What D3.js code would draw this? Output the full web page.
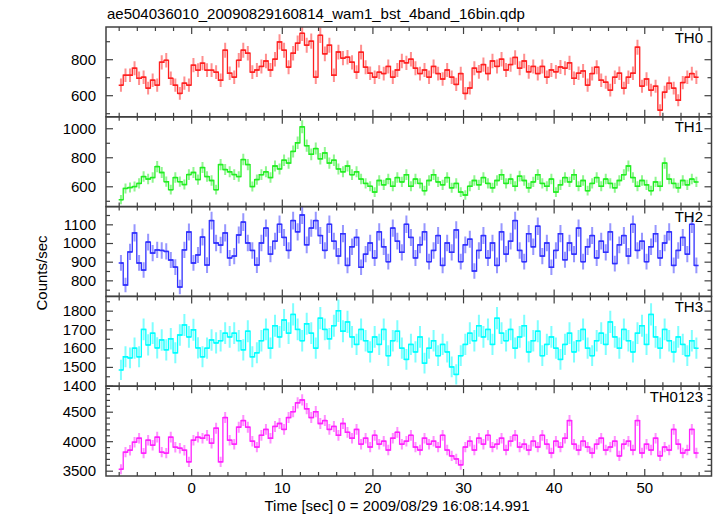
<!DOCTYPE html>
<html><head><meta charset="utf-8">
<script src="https://cdn.jsdelivr.net/npm/d3@7"></script>
<style>
body{margin:0;background:#fff}
svg{display:block}
text{font-family:"Liberation Sans",Arial,Helvetica,sans-serif}
</style>
</head><body><svg id="c" width="717" height="516"></svg>
<script>
const titleText = "ae504036010_20090829160814_wam1_bst_4band_16bin.qdp";
const xLabel = "Time [sec] 0 = 2009/08/29 16:08:14.991";
const yLabel = "Counts/sec";
const bandNames = ["TH0", "TH1", "TH2", "TH3", "TH0123"];
const bandColors = ["#ff2020", "#22ee22", "#3030ff", "#00ffff", "#ff22ff"];
const tStart = -8, binSize = 0.5;
const xMajorTicks = [0, 10, 20, 30, 40, 50];

const th0 = [656,711,711,750,694,700,639,683,656,783,
794,694,656,610,667,656,767,739,778,739,
739,728,683,850,722,700,794,850,833,728,
740,760,790,740,800,896,850,756,833,889,
944,878,900,700,933,830,878,711,840,806,
811,783,728,839,756,722,700,728,720,760,
700,740,790,780,800,750,720,740,700,760,
720,690,740,700,660,720,610,640,750,730,
770,720,790,760,800,740,770,810,750,790,
730,760,720,760,700,740,730,757,750,780,
694,722,735,656,720,756,683,672,628,700,
722,639,700,722,867,650,690,628,650,517,
617,667,639,572,670,700,720,700];
const th1 = [508,585,591,598,620,667,650,660,736,695,
632,577,660,632,612,681,695,646,729,667,
640,577,750,715,700,681,667,784,750,598,
646,680,700,660,740,720,780,760,840,900,
1010,880,820,860,790,830,760,780,720,700,
740,680,700,650,620,600,560,640,610,650,
600,660,630,680,600,650,620,570,640,680,
630,610,660,590,620,560,540,600,640,610,
660,620,590,640,680,620,650,600,670,640,
590,630,680,620,600,650,560,610,660,630,
680,600,640,570,620,660,600,650,620,590,
640,680,740,660,600,640,610,570,630,600,
760,650,620,590,640,610,650,630];
const th2 = [893,775,952,1054,893,855,1005,946,963,960,
955,909,871,764,963,1059,893,936,1032,882,
1120,1000,989,1054,920,930,1043,1112,1000,960,
882,1000,1080,940,1010,1100,1030,960,1120,1060,
1150,990,1080,1120,1040,960,1100,1010,930,1050,
880,980,1030,870,940,1000,920,1060,980,900,
1080,1010,950,1100,1030,920,990,1060,900,960,
1040,880,1000,950,1070,900,990,1020,850,960,
1040,920,1000,880,1060,940,1010,1120,960,900,
1050,980,1090,930,1000,870,960,1050,910,1000,
940,1080,900,980,1040,920,1010,950,1060,890,
990,1040,930,1100,960,1010,900,980,1050,920,
1000,1060,880,960,1030,940,1100,880];
const th3 = [1484,1554,1548,1600,1554,1700,1617,1680,1601,1644,
1591,1650,1575,1670,1724,1660,1698,1601,1554,1600,
1644,1628,1640,1680,1660,1680,1640,1591,1690,1554,
1575,1640,1700,1600,1720,1660,1750,1680,1780,1700,
1640,1730,1680,1600,1760,1700,1650,1720,1800,1690,
1740,1660,1620,1700,1640,1580,1660,1620,1700,1560,
1640,1690,1600,1540,1620,1580,1660,1520,1600,1640,
1560,1620,1580,1500,1460,1560,1620,1680,1640,1720,
1660,1700,1620,1760,1680,1640,1700,1600,1660,1720,
1580,1640,1690,1560,1620,1660,1600,1540,1620,1680,
1580,1640,1700,1600,1560,1640,1680,1620,1740,1660,
1600,1700,1640,1580,1680,1720,1620,1780,1660,1600,
1700,1640,1580,1660,1620,1560,1640,1600];
const th0123 = [3525,3814,3847,3983,4050,3797,4017,3932,4068,3814,
3797,4068,3898,3881,3847,3650,4017,4068,4050,4100,
3966,4220,3650,4400,4017,3950,4237,4350,4237,4000,
3900,4100,4200,4050,4250,4300,4200,4400,4500,4650,
4700,4550,4400,4500,4300,4350,4200,4250,4100,4300,
4150,4050,4200,3950,4050,3900,4100,3950,4000,3850,
4050,4150,3950,4000,4100,3900,3850,4050,3950,4000,
3900,4100,3850,3750,3700,3600,3900,4000,3850,4050,
3950,4100,3900,3950,4050,3850,4000,4100,3900,3950,
3850,4000,3900,4100,3950,3800,4000,3900,4050,4350,
3950,3850,4000,3900,3800,3950,4050,3850,3900,4000,
3750,3950,4000,3850,4350,3800,3950,3850,4050,3750,
3900,3850,4200,3950,3800,3850,4200,3800];

const yDomains = [[480, 979], [460, 1079], [714, 1195], [1397, 1876], [3410, 4932]];
const yMajor = [[600, 800], [600, 800, 1000], [800, 900, 1000, 1100], [1400, 1500, 1600, 1700, 1800], [3500, 4000, 4500]];
const yMinorStep = [100, 100, 50, 50, 100];
const series = [th0, th1, th2, th3, th0123];

const svg = d3.select("#c");
const L = 106, R = 711.5, T = 27, PH = 89.8;
const frameColor = "#404040";
const x = d3.scaleLinear().domain([-9.4, 57.42]).range([L, R]);
const xMinor = d3.range(-8, 57, 2).filter(v => v % 10 !== 0);

svg.append("text").attr("x", 107).attr("y", 19).attr("font-size", 15).text(titleText);

function styleAxis(g) {
  g.select(".domain").remove();
  g.selectAll(".tick line").attr("stroke", frameColor).attr("stroke-width", 1.2);
  g.selectAll("text").attr("fill", "#000").attr("font-size", 15)
    .attr("font-family", '"Liberation Sans",Arial,Helvetica,sans-serif');
}

series.forEach((vals, k) => {
  const top = T + k * PH;
  const g = svg.append("g").attr("transform", `translate(0,${top})`);
  const y = d3.scaleLinear().domain(yDomains[k]).range([PH, 0]);
  const color = bandColors[k];
  const clipId = "clip" + k;
  g.append("clipPath").attr("id", clipId).append("rect")
    .attr("x", L).attr("y", 0).attr("width", R - L).attr("height", PH);
  const data = vals.map((v, i) => ({ t: tStart + binSize * (i + 0.5), v, e: Math.sqrt(v * binSize) / binSize }));
  const dg = g.append("g").attr("clip-path", `url(#${clipId})`);
  dg.selectAll("line.err").data(data).join("line").attr("class", "err")
    .attr("x1", d => x(d.t)).attr("x2", d => x(d.t))
    .attr("y1", d => y(d.v - d.e)).attr("y2", d => y(d.v + d.e))
    .attr("stroke", color).attr("stroke-width", 2).attr("stroke-opacity", 0.5);
  const step = d3.line().x(d => x(d.t)).y(d => y(d.v)).curve(d3.curveStep);
  dg.append("path").datum(data).attr("d", step)
    .attr("fill", "none").attr("stroke", color).attr("stroke-width", 1.3);
  dg.selectAll("line.bin").data(data).join("line").attr("class", "bin")
    .attr("x1", d => x(d.t - binSize / 2)).attr("x2", d => x(d.t + binSize / 2))
    .attr("y1", d => y(d.v)).attr("y2", d => y(d.v))
    .attr("stroke", color).attr("stroke-width", 1.5);

  const last = k === series.length - 1;
  g.append("g").attr("transform", `translate(0,${PH})`)
    .call(d3.axisBottom(x).tickValues(xMajorTicks).tickSizeInner(-7).tickSizeOuter(0).tickPadding(6)
      .tickFormat(last ? d3.format("d") : () => ""))
    .call(styleAxis);
  g.append("g").attr("transform", `translate(0,${PH})`)
    .call(d3.axisBottom(x).tickValues(xMinor).tickSizeInner(-4).tickSizeOuter(0).tickFormat(() => ""))
    .call(styleAxis);
  g.append("g")
    .call(d3.axisTop(x).tickValues(xMajorTicks).tickSizeInner(-7).tickSizeOuter(0).tickFormat(() => ""))
    .call(styleAxis);
  g.append("g")
    .call(d3.axisTop(x).tickValues(xMinor).tickSizeInner(-4).tickSizeOuter(0).tickFormat(() => ""))
    .call(styleAxis);

  const [d0, d1] = yDomains[k];
  const st = yMinorStep[k];
  const minor = d3.range(Math.ceil(d0 / st) * st, d1, st).filter(v => !yMajor[k].includes(v));
  g.append("g").attr("transform", `translate(${L},0)`)
    .call(d3.axisLeft(y).tickValues(yMajor[k]).tickSizeInner(-7).tickSizeOuter(0).tickPadding(10).tickFormat(d3.format("d")))
    .call(styleAxis);
  g.append("g").attr("transform", `translate(${L},0)`)
    .call(d3.axisLeft(y).tickValues(minor).tickSizeInner(-4).tickSizeOuter(0).tickFormat(() => ""))
    .call(styleAxis);
  g.append("g").attr("transform", `translate(${R},0)`)
    .call(d3.axisRight(y).tickValues(yMajor[k]).tickSizeInner(-7).tickSizeOuter(0).tickFormat(() => ""))
    .call(styleAxis);
  g.append("g").attr("transform", `translate(${R},0)`)
    .call(d3.axisRight(y).tickValues(minor).tickSizeInner(-4).tickSizeOuter(0).tickFormat(() => ""))
    .call(styleAxis);

  g.append("rect").attr("x", L).attr("y", 0).attr("width", R - L).attr("height", PH)
    .attr("fill", "none").attr("stroke", frameColor).attr("stroke-width", 1.5);

  g.append("text").attr("x", 703).attr("y", 15.5).attr("text-anchor", "end")
    .attr("font-size", 15).text(bandNames[k]);
});

svg.append("text").attr("x", 397).attr("y", 511).attr("text-anchor", "middle")
  .attr("font-size", 15).text(xLabel);
svg.append("text").attr("transform", "translate(47,273) rotate(-90)")
  .attr("text-anchor", "middle").attr("font-size", 15).text(yLabel);
</script>
</body></html>
